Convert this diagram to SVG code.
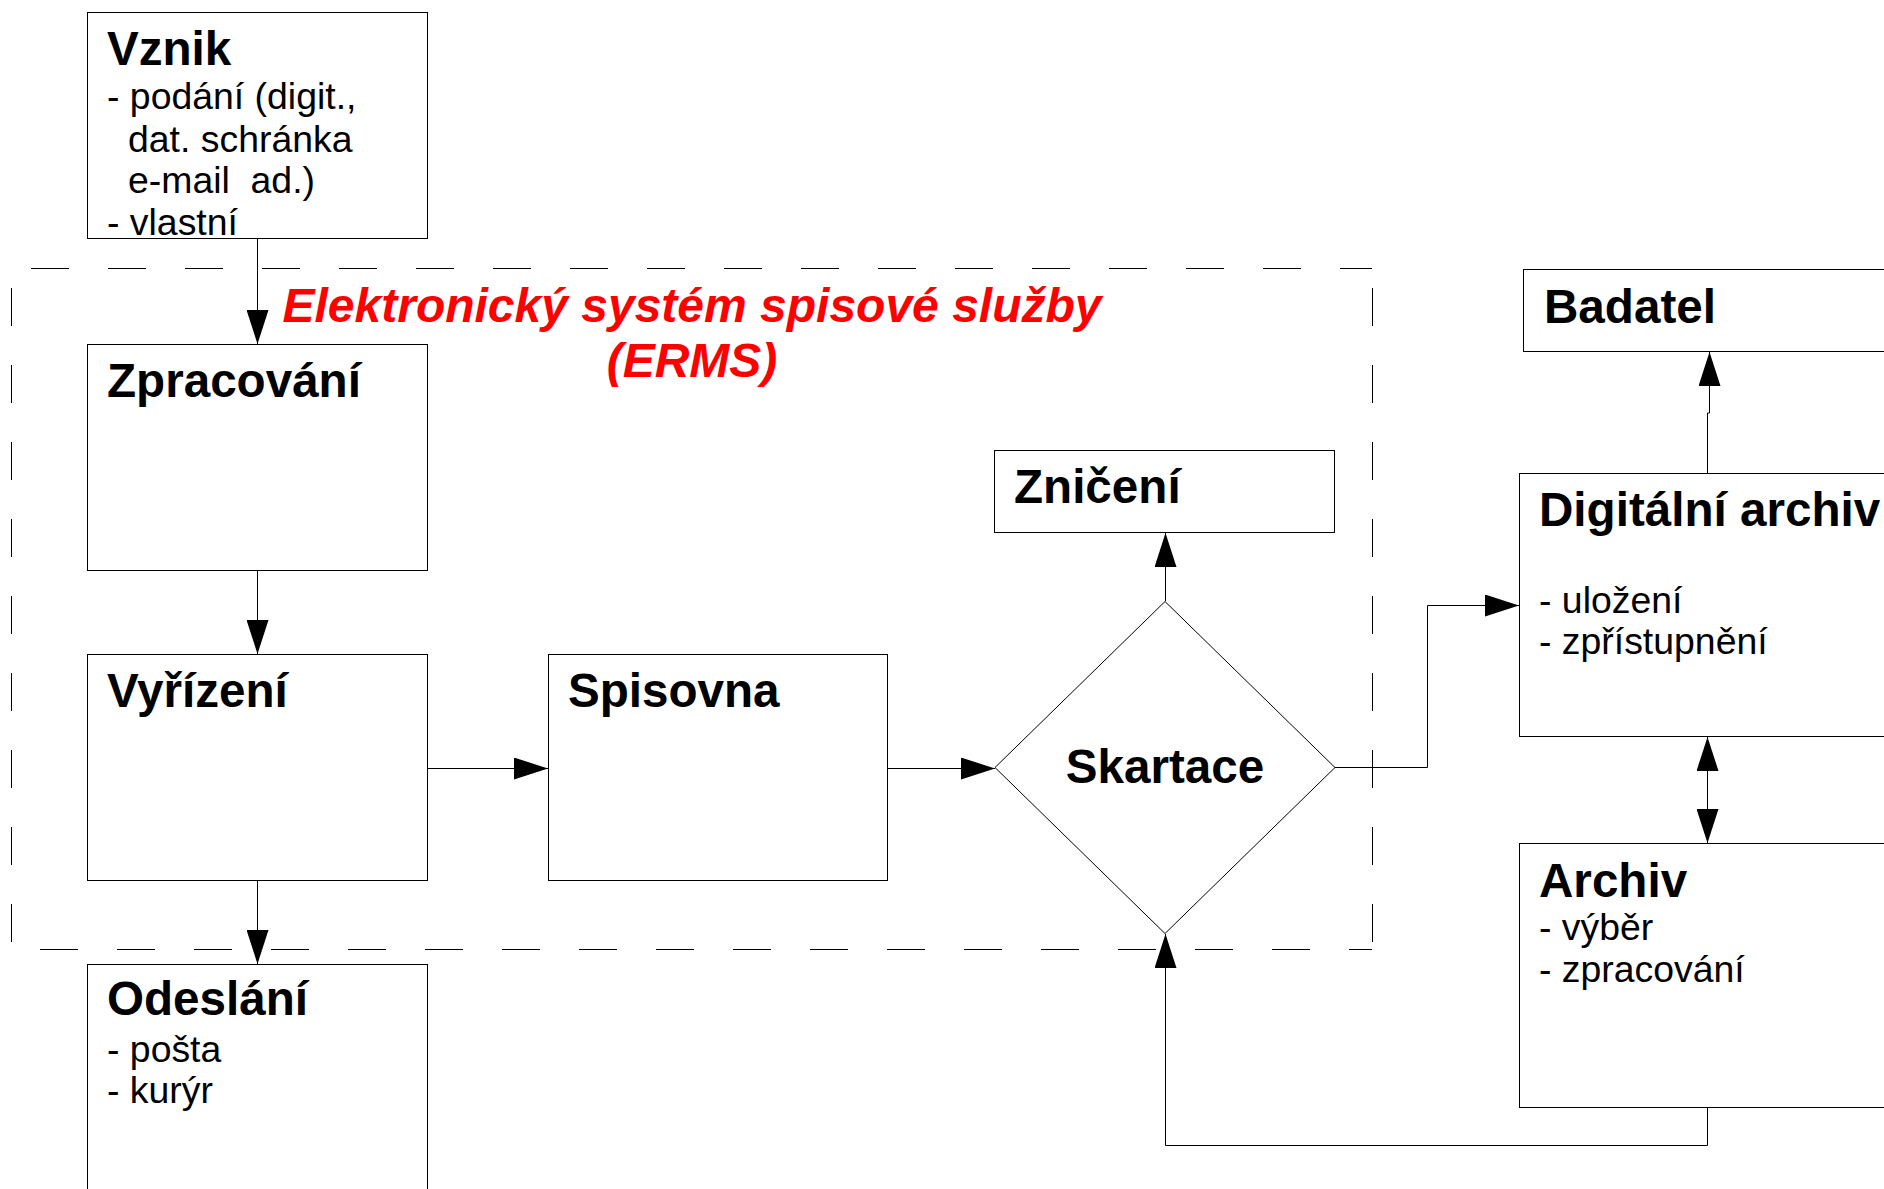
<svg xmlns="http://www.w3.org/2000/svg" width="1884" height="1189" viewBox="0 0 1884 1189">
<style>
.box{fill:#fff;stroke:#000;stroke-width:1}
.h{font-family:"Liberation Sans",Arial,sans-serif;font-weight:bold;font-size:47.6px;fill:#000}
.t{font-family:"Liberation Sans",Arial,sans-serif;font-size:37.4px;fill:#000}
.title{font-family:"Liberation Sans",Arial,sans-serif;font-weight:bold;font-style:italic;font-size:48px;fill:#ff0000}
.c{fill:none;stroke:#000;stroke-width:1}
.d{fill:none;stroke:#000;stroke-width:1;stroke-dasharray:38 39}
</style>
<defs>
<marker id="ah" markerUnits="userSpaceOnUse" markerWidth="34" markerHeight="22" refX="34" refY="11" orient="auto-start-reverse" viewBox="0 0 34 22">
<path d="M0,0 L34,11 L0,22 z" fill="#000"/>
</marker>
</defs>
<g id="boundary">
<line class="d" x1="12" y1="268.5" x2="1372" y2="268.5" stroke-dashoffset="58"/>
<line class="d" x1="11.5" y1="269" x2="11.5" y2="949" stroke-dashoffset="58"/>
<line class="d" x1="1372.5" y1="269" x2="1372.5" y2="949" stroke-dashoffset="58"/>
<line class="d" x1="12" y1="949.5" x2="1372" y2="949.5" stroke-dashoffset="49"/>
<text class="title" x="692" y="322" text-anchor="middle">Elektronický systém spisové služby</text>
<text class="title" x="692" y="377" text-anchor="middle">(ERMS)</text>
</g>
<g id="connectors">
<path class="c" d="M257.5,239 V344" marker-end="url(#ah)"/>
<path class="c" d="M257.5,571 V654" marker-end="url(#ah)"/>
<path class="c" d="M257.5,881 V964" marker-end="url(#ah)"/>
<path class="c" d="M427,768.5 H548" marker-end="url(#ah)"/>
<path class="c" d="M888,768.5 H995" marker-end="url(#ah)"/>
<path class="c" d="M1165.5,601 V533" marker-end="url(#ah)"/>
<path class="c" d="M1335,767.5 H1427.5 V605.5 H1519" marker-end="url(#ah)"/>
<path class="c" d="M1707.5,473 V413 H1709.5 V352" marker-end="url(#ah)"/>
<path class="c" d="M1707.5,737 V843" marker-start="url(#ah)" marker-end="url(#ah)"/>
<path class="c" d="M1707.5,1108 V1145.5 H1165.5 V934" marker-end="url(#ah)"/>
</g>
<g id="vznik">
<rect class="box" x="87.5" y="12.5" width="340" height="226"/>
<text class="h" x="107" y="65">Vznik</text>
<text class="t" x="107" y="109">- podání (digit.,</text>
<text class="t" x="128" y="152">dat. schránka</text>
<text class="t" x="128" y="193" xml:space="preserve">e-mail  ad.)</text>
<text class="t" x="107" y="235">- vlastní</text>
</g>
<g id="zpracovani">
<rect class="box" x="87.5" y="344.5" width="340" height="226"/>
<text class="h" x="107" y="397">Zpracování</text>
</g>
<g id="vyrizeni">
<rect class="box" x="87.5" y="654.5" width="340" height="226"/>
<text class="h" x="107" y="707">Vyřízení</text>
</g>
<g id="spisovna">
<rect class="box" x="548.5" y="654.5" width="339" height="226"/>
<text class="h" x="568" y="707">Spisovna</text>
</g>
<g id="odeslani">
<rect class="box" x="87.5" y="964.5" width="340" height="260"/>
<text class="h" x="107" y="1015">Odeslání</text>
<text class="t" x="107" y="1062">- pošta</text>
<text class="t" x="107" y="1103">- kurýr</text>
</g>
<g id="zniceni">
<rect class="box" x="994.5" y="450.5" width="340" height="82"/>
<text class="h" x="1014" y="503">Zničení</text>
</g>
<g id="skartace">
<polygon class="box" points="1165,601.5 1335,767.5 1165,933.5 995,767.5"/>
<text class="h" x="1165" y="783" text-anchor="middle">Skartace</text>
</g>
<g id="badatel">
<rect class="box" x="1523.5" y="269.5" width="400" height="82"/>
<text class="h" x="1544" y="323">Badatel</text>
</g>
<g id="digitalni-archiv">
<rect class="box" x="1519.5" y="473.5" width="400" height="263"/>
<text class="h" x="1539" y="526">Digitální archiv</text>
<text class="t" x="1539" y="613">- uložení</text>
<text class="t" x="1539" y="654">- zpřístupnění</text>
</g>
<g id="archiv">
<rect class="box" x="1519.5" y="843.5" width="400" height="264"/>
<text class="h" x="1539" y="897">Archiv</text>
<text class="t" x="1539" y="940">- výběr</text>
<text class="t" x="1539" y="982">- zpracování</text>
</g>
</svg>
